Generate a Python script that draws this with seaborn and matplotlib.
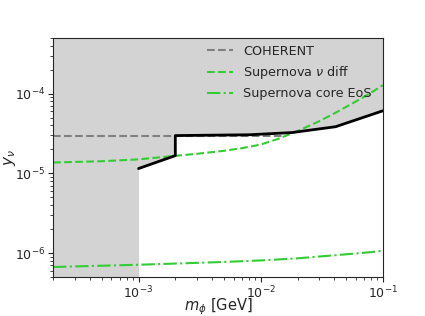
import matplotlib
matplotlib.use("Agg")
import matplotlib.pyplot as plt
import seaborn as sns

# Excluded boundary (black line)
bound_m = [1e-3, 2e-3, 2e-3, 8e-3, 1.8e-2, 4.1e-2, 1e-1]
bound_y = [1.15e-5, 1.67e-5, 2.98e-5, 3.05e-5, 3.25e-5, 3.85e-5, 6.1e-5]

# COHERENT
coh_m = [2e-4, 2e-3, 1.5e-2]
coh_y = [2.98e-5, 2.98e-5, 2.98e-5]

# Supernova nu diffusion
diff_m = [2e-4, 5e-4, 1e-3, 2e-3, 3e-3, 5e-3, 7e-3, 1e-2, 1.4e-2, 2e-2,
          3e-2, 4e-2, 5.5e-2, 7e-2, 8.5e-2, 1e-1]
diff_y = [1.37e-5, 1.42e-5, 1.50e-5, 1.66e-5, 1.76e-5, 1.92e-5, 2.07e-5,
          2.3e-5, 2.72e-5, 3.4e-5, 4.5e-5, 5.65e-5, 7.4e-5, 9.1e-5,
          1.09e-4, 1.28e-4]

# Supernova core EoS
eos_m = [2e-4, 5e-4, 1e-3, 2e-3, 5e-3, 1e-2, 2e-2, 4e-2, 6e-2, 8e-2, 1e-1]
eos_y = [6.7e-7, 6.95e-7, 7.15e-7, 7.4e-7, 7.75e-7, 8.1e-7, 8.6e-7,
         9.4e-7, 9.9e-7, 1.03e-6, 1.07e-6]

xmin, xmax = 2e-4, 1e-1
ymin, ymax = 5e-7, 5e-4

sns.set_style("ticks")
plt.rcParams["font.family"] = ["DejaVu Sans"]

fig = plt.figure(figsize=(4.25, 3.16), dpi=100)
ax = fig.add_axes([0.125, 0.123, 0.776, 0.757])
ax.set_xscale("log")
ax.set_yscale("log")

# shaded excluded region
fill_m = [xmin, bound_m[0]] + bound_m
fill_y = [ymin, ymin] + bound_y
ax.fill_between(fill_m, fill_y, ymax, color="lightgray", lw=0, zorder=0)

sns.lineplot(x=coh_m, y=coh_y, ax=ax, color="gray", linestyle="--",
             lw=1.5, label="COHERENT", sort=False)
sns.lineplot(x=diff_m, y=diff_y, ax=ax, color="limegreen", linestyle="--",
             lw=1.5, label=r"Supernova $\nu$ diff", sort=False)
sns.lineplot(x=eos_m, y=eos_y, ax=ax, color="limegreen", linestyle="-.",
             lw=1.5, label="Supernova core EoS", sort=False)
ax.plot(bound_m, bound_y, color="black", lw=2)

ax.set_xlim(xmin, xmax)
ax.set_ylim(ymin, ymax)
ax.set_xlabel(r"$m_\phi$ [GeV]", fontsize=10.5)
ax.set_ylabel(r"$y_\nu$", fontsize=11)
ax.xaxis.set_label_coords(0.5, -0.082)
ax.yaxis.set_label_coords(-0.105, 0.5)
ax.tick_params(labelsize=9, pad=2)
ax.legend(loc="upper right", frameon=False, fontsize=9.2,
          bbox_to_anchor=(1.0, 1.02))

fig.savefig("out.png", dpi=100)
